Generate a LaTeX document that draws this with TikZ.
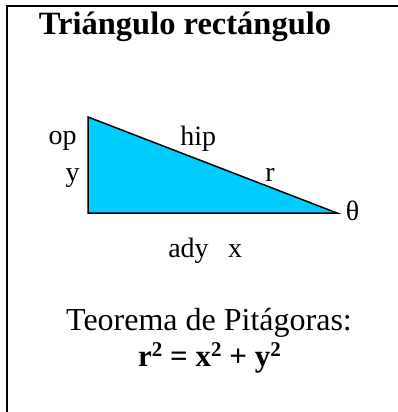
\documentclass[tikz,border=0pt]{standalone}
\usepackage{fontspec}
\setmainfont{Liberation Serif}
\newcommand{\supnum}[1]{\raisebox{0.32em}{\fontsize{21}{22}\selectfont #1}}
\begin{document}
\begin{tikzpicture}[x=1pt,y=-1pt,
  lbl/.style={anchor=base,inner sep=0pt,font=\fontsize{28}{30}\selectfont},
  big/.style={anchor=base,inner sep=0pt,font=\fontsize{32}{34}\selectfont}]
\useasboundingbox (0,0) rectangle (398,412);
\draw[line width=2.5pt] (400,6) -- (7,6) -- (7,414);
\node[big,font=\fontsize{32.5}{34}\selectfont\bfseries] (title) at (185,35) {Triángulo rectángulo};
\coordinate (A) at (88,117);
\coordinate (B) at (88,213);
\coordinate (C) at (337,213);
\filldraw[fill={rgb,255:red,0;green,204;blue,255},draw=black,line width=1.5pt,line join=miter] (A) -- (B) -- (C) -- cycle;
\node[lbl] (op) at (62.5,144) {op};
\node[lbl] (y) at (72.5,181.5) {y};
\node[lbl] (hip) at (198.3,145) {hip};
\node[lbl] (r) at (270,181) {r};
\node[lbl] (th) at (352.5,220.7) {θ};
\node[lbl] (ady) at (188.5,257) {ady};
\node[lbl] (x) at (235,257) {x};
\node[big] (teo) at (209,330.7) {Teorema de Pitágoras:};
\node[big,font=\fontsize{31}{34}\selectfont\bfseries] (form) at (209.5,366.7) {r\supnum{2} = x\supnum{2} + y\supnum{2}};
\end{tikzpicture}
\end{document}
